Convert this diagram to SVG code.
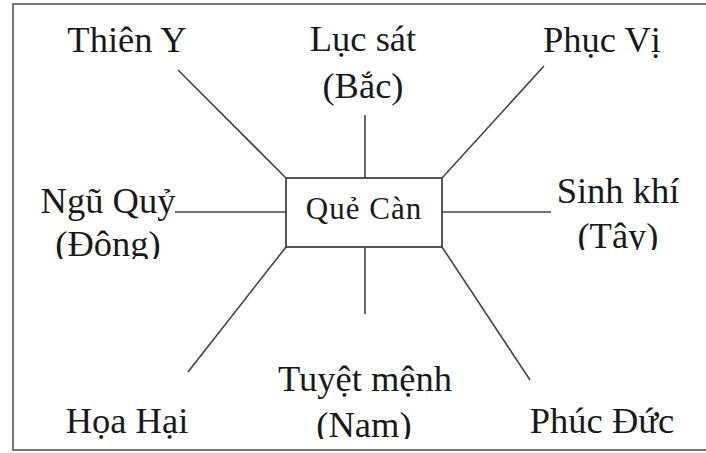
<svg xmlns="http://www.w3.org/2000/svg" width="706" height="453" viewBox="0 0 706 453">
<style>
.lbl{font-family:"Liberation Serif","Times New Roman",serif;font-size:36.5px;fill:#1a1a1a;text-anchor:middle}
.ctr{font-family:"Liberation Serif","Times New Roman",serif;font-size:31px;fill:#1a1a1a;text-anchor:middle;letter-spacing:1px}
.ln{stroke:#444;stroke-width:1.6;fill:none}
</style>
<defs>
<clipPath id="cDong"><rect x="30" y="220" width="160" height="39"/></clipPath>
<clipPath id="cTay"><rect x="560" y="215" width="120" height="35"/></clipPath>
<clipPath id="cNam"><rect x="300" y="400" width="130" height="39"/></clipPath>
</defs>
<rect x="0" y="0" width="706" height="453" fill="#fff"/>
<rect id="frame" x="13" y="4" width="720" height="446" fill="none" stroke="#777" stroke-width="2"/>
<g id="connectors">
<line class="ln" x1="178" y1="70" x2="286" y2="178"/>
<line class="ln" x1="365" y1="115" x2="365" y2="178"/>
<line class="ln" x1="544" y1="66" x2="442" y2="178"/>
<line class="ln" x1="175" y1="212" x2="286" y2="212"/>
<line class="ln" x1="442" y1="212" x2="551" y2="212"/>
<line class="ln" x1="286" y1="247" x2="188" y2="372"/>
<line class="ln" x1="365" y1="247" x2="365" y2="314"/>
<line class="ln" x1="442" y1="247" x2="530" y2="380"/>
</g>
<g id="center">
<rect x="286" y="178" width="156" height="69" fill="#fff" stroke="#444" stroke-width="1.8"/>
<text class="ctr" x="364" y="219">Quẻ Càn</text>
</g>
<g id="thien-y"><text class="lbl" x="127" y="52">Thiên Y</text></g>
<g id="luc-sat"><text class="lbl" x="363" y="51">Lục sát</text><text class="lbl" x="363" y="98">(Bắc)</text></g>
<g id="phuc-vi"><text class="lbl" x="602" y="52">Phục Vị</text></g>
<g id="ngu-quy"><text class="lbl" x="108" y="213">Ngũ Quỷ</text><text class="lbl" x="108" y="256" clip-path="url(#cDong)">(Đông)</text></g>
<g id="sinh-khi"><text class="lbl" x="618" y="203">Sinh khí</text><text class="lbl" x="618" y="248" clip-path="url(#cTay)">(Tây)</text></g>
<g id="hoa-hai"><text class="lbl" x="127" y="433">Họa Hại</text></g>
<g id="tuyet-menh"><text class="lbl" x="365" y="391">Tuyệt mệnh</text><text class="lbl" x="364" y="437" clip-path="url(#cNam)">(Nam)</text></g>
<g id="phuc-duc"><text class="lbl" x="602" y="433">Phúc Đức</text></g>
</svg>
